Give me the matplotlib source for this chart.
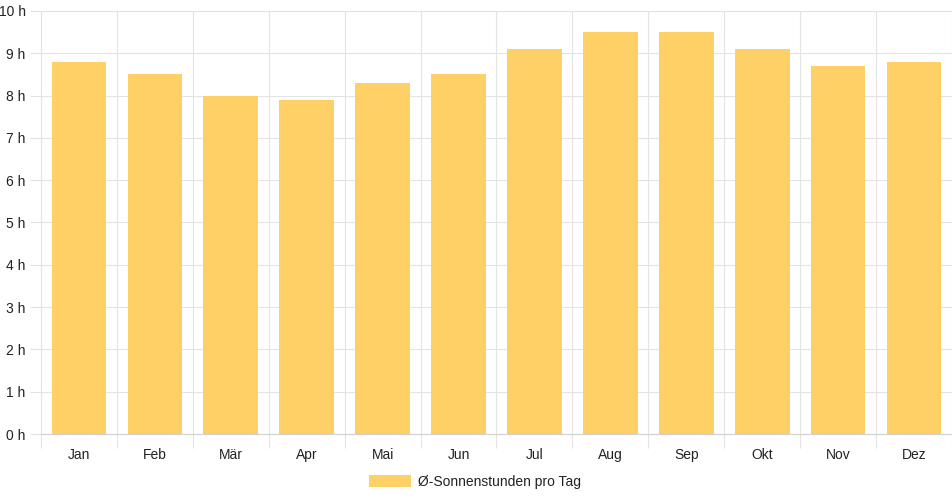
import numpy as np
import matplotlib
matplotlib.use('Agg')
import matplotlib.pyplot as plt
from matplotlib.patches import Patch

months = ['Jan', 'Feb', 'Mär', 'Apr', 'Mai', 'Jun', 'Jul', 'Aug', 'Sep', 'Okt', 'Nov', 'Dez']
sun_hours = [8.8, 8.5, 8.0, 7.9, 8.3, 8.5, 9.1, 9.5, 9.5, 9.1, 8.7, 8.8]
y_ticks = list(range(0, 11))
series_label = 'Ø-Sonnenstunden pro Tag'

plt.rcParams['font.family'] = ['Liberation Sans', 'DejaVu Sans']

W, H = 952, 500
fig = plt.figure(figsize=(W / 100, H / 100), dpi=100)

# plot area in pixels
left, right, top, bottom = 41, 952, 11, 434
ax = fig.add_axes([left / W, 1 - bottom / H, (right - left) / W, (bottom - top) / H])

bar_color = '#FED066'
grid_color = '#e3e3e3'
x = np.arange(len(months))
ax.bar(x, sun_hours, width=0.72, color=bar_color, zorder=2)

ax.set_xlim(-0.5, len(months) - 0.5)
ax.set_ylim(0, 10)
ax.set_yticks(y_ticks)
ax.set_yticklabels([f'{t} h' for t in y_ticks])
ax.set_xticks(x)
ax.set_xticklabels(months)

# category gridlines between bars
ax.set_xticks(np.arange(len(months) + 1) - 0.5, minor=True)
ax.grid(True, which='minor', axis='x', color=grid_color, lw=0.8, zorder=0)
ax.grid(True, which='major', axis='y', color=grid_color, lw=0.8, zorder=0)

ax.tick_params(axis='x', which='major', length=0, pad=10, labelsize=10, labelcolor='#222')
ax.tick_params(axis='x', which='minor', length=10, color=grid_color, width=0.8)
ax.tick_params(axis='y', length=8, color=grid_color, width=0.8, pad=3, labelsize=10, labelcolor='#222')

for s in ['top', 'right']:
    ax.spines[s].set_visible(False)
ax.spines['left'].set_color(grid_color)
ax.spines['bottom'].set_color('#d0d0d0')

leg = fig.legend(handles=[Patch(facecolor=bar_color, edgecolor='none', label=series_label)],
                 loc='center', bbox_to_anchor=(475 / W, 1 - 482 / H), frameon=False,
                 fontsize=10, handlelength=3.0, handleheight=1.0, handletextpad=0.5)
for t in leg.get_texts():
    t.set_color('#222')

fig.savefig('out.png', dpi=100)
